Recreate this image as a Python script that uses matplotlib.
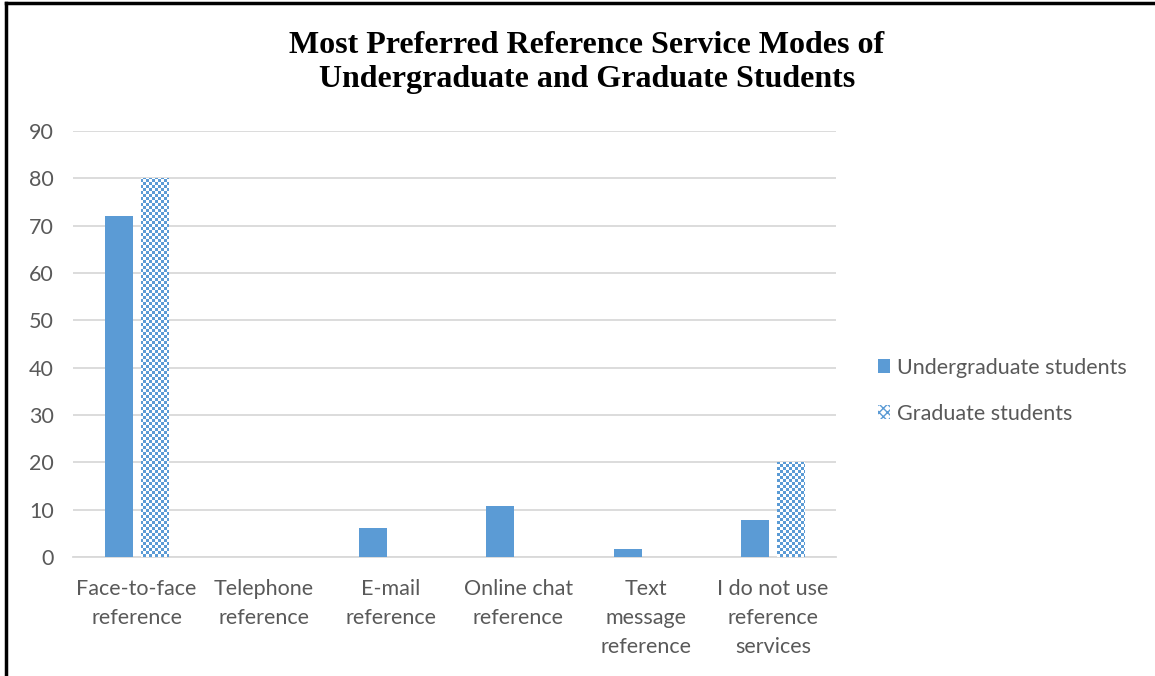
import numpy as np
import matplotlib
matplotlib.use("Agg")
import matplotlib.pyplot as plt
from matplotlib.patches import Patch
from matplotlib.lines import Line2D

categories = ["Face-to-face\nreference", "Telephone\nreference", "E-mail\nreference",
              "Online chat\nreference", "Text\nmessage\nreference",
              "I do not use\nreference\nservices"]
undergrad = [72, 0, 6.2, 10.8, 1.6, 7.8]
graduate = [80, 0, 0, 0, 0, 20]
yticks = [0, 10, 20, 30, 40, 50, 60, 70, 80, 90]

blue = "#5b9bd5"
gray = "#595959"
grid_gray = "#d9d9d9"

plt.rcParams["font.family"] = ["Lato", "DejaVu Sans"]

fig = plt.figure(figsize=(11.55, 6.76), dpi=100)
ax = fig.add_axes([0.0632, 0.176, 0.6610, 0.630])

x = np.arange(len(categories))
w = 0.22
off = 0.141
ax.bar(x - off, undergrad, w, color=blue, zorder=3)
grad_bars = ax.bar(x + off, graduate, w, color="none", zorder=3)

ax.set_xlim(-0.5, len(categories) - 0.5)
ax.set_ylim(0, 90)

# checkerboard texture for the graduate series, clipped to each bar
cell_px = 3
ncols = int(763 / cell_px)
nrows = int(426 / cell_px)
checker = (np.indices((nrows, ncols)).sum(axis=0) % 2).astype(float)
cmap = matplotlib.colors.ListedColormap(["white", blue])
for bar in grad_bars:
    if bar.get_height() <= 0:
        continue
    im = ax.imshow(checker, cmap=cmap, interpolation="nearest", aspect="auto",
                   extent=(-0.5, len(categories) - 0.5, 0, 90), origin="lower", zorder=4)
    im.set_clip_path(bar)
ax.set_xlim(-0.5, len(categories) - 0.5)
ax.set_ylim(0, 90)

fs = 15.5
ax.set_yticks(yticks)
ax.set_xticks(x)
ax.set_xticklabels(categories, fontsize=fs, color=gray, linespacing=1.55, va="top")
ax.tick_params(axis="both", length=0, labelsize=fs, labelcolor=gray)
ax.tick_params(axis="x", pad=16)
ax.tick_params(axis="y", pad=14)
ax.grid(axis="y", color=grid_gray, linewidth=1.3, zorder=0)
for s in ["top", "right", "left"]:
    ax.spines[s].set_visible(False)
ax.spines["bottom"].set_color(grid_gray)
ax.spines["bottom"].set_linewidth(1.3)

handles = [Patch(facecolor=blue, edgecolor="none"),
           Patch(facecolor="white", edgecolor=blue, hatch="xxxx", linewidth=0)]
leg = fig.legend(handles, ["Undergraduate students", "Graduate students"],
                 loc="center left", bbox_to_anchor=(0.743, 0.422), frameon=False,
                 fontsize=fs, labelcolor=gray, handlelength=0.6, handleheight=0.6,
                 handletextpad=0.3, labelspacing=1.2)

fig.text(0.508, 0.9075, "Most Preferred Reference Service Modes of\nUndergraduate and Graduate Students",
         ha="center", va="center", fontsize=23, fontweight="bold",
         family="Liberation Serif", linespacing=1.27)

# black frame along the top and left edges
fig.add_artist(Line2D([0.0052, 1], [0.9955, 0.9955], color="black", linewidth=2.5,
                      transform=fig.transFigure))
fig.add_artist(Line2D([0.0052, 0.0052], [0, 0.9955], color="black", linewidth=2.5,
                      transform=fig.transFigure))

fig.savefig("out.png", dpi=100)
